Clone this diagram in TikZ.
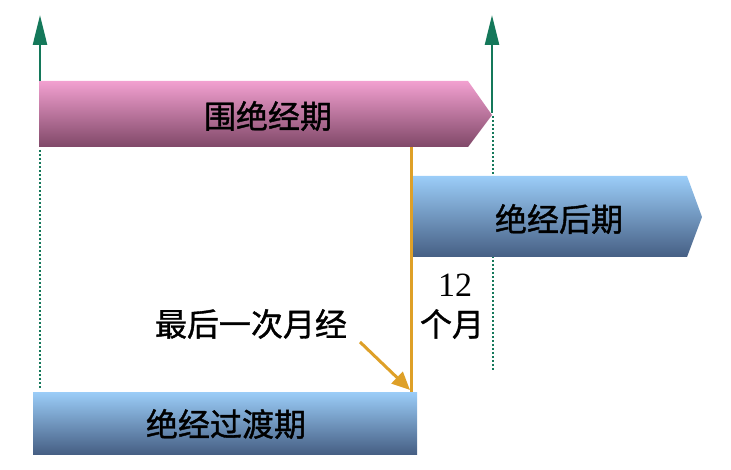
\documentclass[tikz,border=0pt]{standalone}
\usepackage{fontspec}
\setmainfont{Liberation Serif}
\newfontfamily\cjk[FakeBold=1.2]{Noto Sans CJK SC}
\usetikzlibrary{arrows.meta}
\definecolor{grn}{RGB}{20,120,90}
\definecolor{orng}{RGB}{222,160,40}
\definecolor{pinkT}{RGB}{242,160,208}
\definecolor{pinkM}{RGB}{240,115,185}
\definecolor{pinkB}{RGB}{128,72,104}
\definecolor{blueT}{RGB}{155,205,248}
\definecolor{blueM}{RGB}{110,160,212}
\definecolor{blueB}{RGB}{70,95,132}
\begin{document}
\begin{tikzpicture}[x=1pt,y=-1pt,
  lbl/.style={font=\cjk\fontsize{32}{35}\selectfont, inner sep=0pt},
  num/.style={font=\fontsize{34}{36}\selectfont, inner sep=0pt},
  guide/.style={grn, line width=2pt, dotted},
  uparrow/.style={grn, line width=2.5pt, -{Triangle[length=30pt,width=14pt]}},
  pinkfill/.style={top color=pinkT, middle color=pinkM, bottom color=pinkB},
  bluefill/.style={top color=blueT, middle color=blueM, bottom color=blueB},
  markline/.style={orng, line width=3pt},
  pointer/.style={orng, line width=3pt, -{Triangle[length=18pt,width=16pt]}}]
\useasboundingbox (0,0) rectangle (731,470);
% guide coordinates
\coordinate (lg1) at (40,150);
\coordinate (lg2) at (40,388);
\coordinate (rg1) at (493,116);
\coordinate (rg2) at (493,371);
\draw[guide] (lg1) -- (lg2);
\draw[guide] (rg1) -- (rg2);
% pink arrow
\shade[pinkfill] (39,81) -- (468,81) -- (492,115) -- (468,147) -- (39,147) -- cycle;
\node[lbl] (peri) at (268,116) {围绝经期};
% blue arrow
\shade[bluefill] (412,176) -- (687,176) -- (702,217) -- (687,257) -- (412,257) -- cycle;
\node[lbl] (post) at (559,219) {绝经后期};
% bottom rect
\shade[bluefill] (33,392) rectangle (417,454);
\node[lbl] (trans) at (226,424) {绝经过渡期};
% orange line
\coordinate (o1) at (411,147);
\coordinate (o2) at (411,392);
\draw[markline] (o1) -- (o2);
% labels
\node[lbl] (lmp) at (251,324) {最后一次月经};
\node[num] (n12) at (455,285) {12};
\node[lbl] (mon) at (452,324) {个月};
\coordinate (ps) at (360,342);
\coordinate (pe) at (410,390);
\draw[pointer] (ps) -- (pe);
% green arrows
\coordinate (la1) at (40,81);
\coordinate (la2) at (40,15);
\coordinate (ra1) at (492,113);
\coordinate (ra2) at (492,15);
\draw[uparrow] (la1) -- (la2);
\draw[uparrow] (ra1) -- (ra2);
\end{tikzpicture}
\end{document}
